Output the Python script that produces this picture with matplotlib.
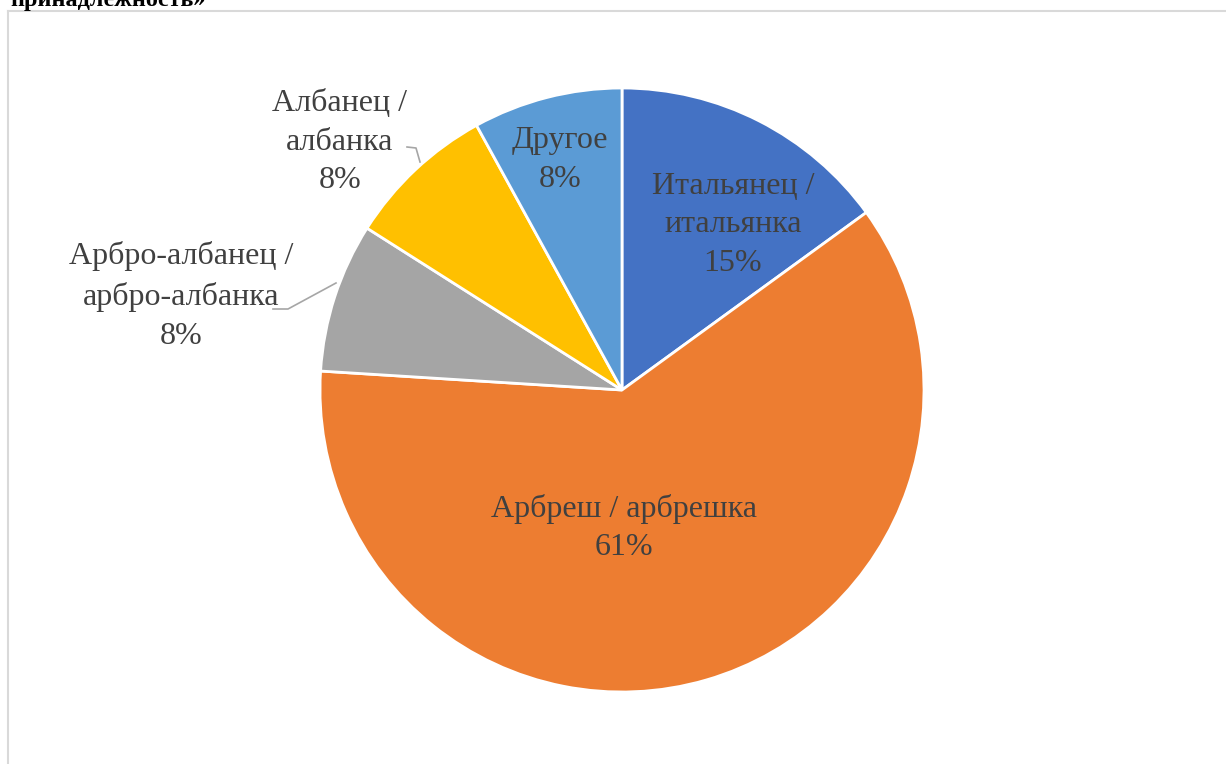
import matplotlib.pyplot as plt
from matplotlib.lines import Line2D

# Ethnic self-identification of respondents, percent
categories = [
    "Итальянец /\nитальянка",
    "Арбреш / арбрешка",
    "Арбро-албанец /\nарбро-албанка",
    "Албанец /\nалбанка",
    "Другое",
]
shares = [15, 61, 8, 8, 8]
colors = ["#4472C4", "#ED7D31", "#A5A5A5", "#FFC000", "#5B9BD5"]

# label centres in pixel coords (x from left, y from top)
label_pos = [(733, 225), (624, 528), (181, 296), (340, 142), (560, 160)]
# leader lines for labels placed outside the pie
leaders = {
    2: [(273, 309), (288, 309), (336, 283)],
    3: [(407, 147), (416, 148), (420, 162)],
}

W, H = 1226, 764
fig = plt.figure(figsize=(W / 100, H / 100), dpi=100)
ax = fig.add_axes([0, 0, 1, 1])

ax.pie(
    shares,
    colors=colors,
    startangle=90,
    counterclock=False,
    center=(622, H - 390),
    radius=302,
    frame=True,
    wedgeprops=dict(edgecolor="white", linewidth=2),
)
ax.set_xlim(0, W)
ax.set_ylim(0, H)
ax.set_aspect("equal")
ax.axis("off")

for i, (name, val) in enumerate(zip(categories, shares)):
    x, y = label_pos[i]
    ax.text(
        x, H - y, f"{name}\n{val}%",
        ha="center", va="center", fontsize=23,
        family="Liberation Serif", color="#404040", linespacing=1.45,
    )

for pts in leaders.values():
    xs = [p[0] for p in pts]
    ys = [H - p[1] for p in pts]
    ax.plot(xs, ys, color="#A6A6A6", linewidth=1.2)

# chart area border (top and left edges)
ax.add_line(Line2D([7.5, W], [H - 10.5, H - 10.5], color="#D9D9D9", lw=1.5))
ax.add_line(Line2D([7.5, 7.5], [0, H - 10.5], color="#D9D9D9", lw=1.5))

# caption tail from the preceding text line
fig.text(10 / W, 1 - 6 / H, "принадлежность»", ha="left", va="baseline",
         fontsize=17.5, fontweight="bold", family="Liberation Serif",
         color="black")

fig.savefig("out.png", dpi=100)
